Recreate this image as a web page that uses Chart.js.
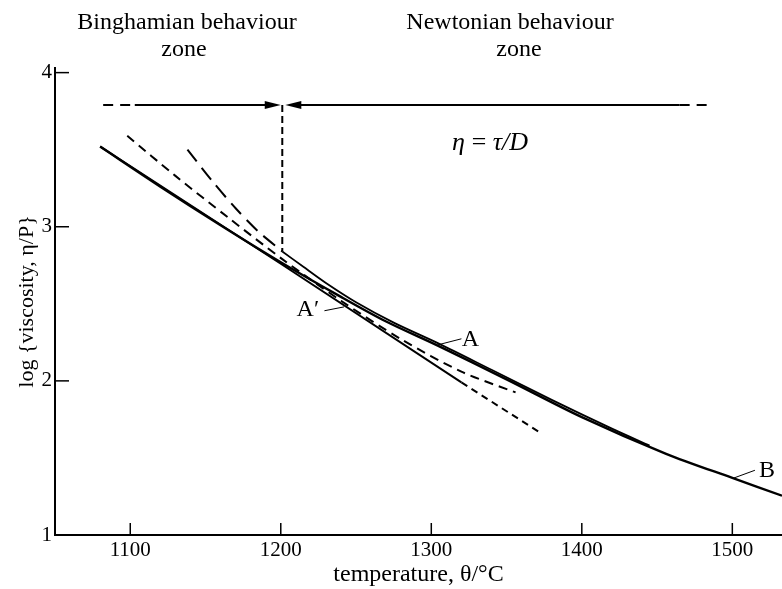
<!DOCTYPE html>
<html>
<head>
<meta charset="utf-8">
<title>log viscosity against temperature</title>
<script src="https://cdn.jsdelivr.net/npm/chart.js@4.4.1/dist/chart.umd.min.js"></script>
<style>
  html, body { margin: 0; padding: 0; background: #fff; }
  #wrap { width: 782px; height: 589px; position: relative; }
</style>
</head>
<body>
<div id="wrap"><canvas id="chart"></canvas></div>
<script>
// axis ticks
var xTicks = [1100, 1200, 1300, 1400, 1500];
var yTicks = [1, 2, 3, 4];

// curve B (the long solid one, down to the right edge)
var tempB = [1080, 1120, 1160, 1200, 1240, 1270, 1305, 1350, 1400, 1456, 1500, 1533];
var logB  = [3.52, 3.26, 3.01, 2.77, 2.545, 2.385, 2.225, 2.01, 1.765, 1.527, 1.37, 1.255];

// curve A (starts at the foot of the vertical dashed line, runs into B)
var tempA = [1201, 1215, 1230, 1250, 1275, 1305, 1340, 1380, 1420, 1445];
var logA  = [2.84, 2.74, 2.635, 2.51, 2.378, 2.242, 2.072, 1.877, 1.69, 1.58];

// straight line A' : solid part then dashed part
var tempAp = [1080, 1200, 1320];
var logAp  = [3.52, 2.76, 1.99];
var tempApDash = [1320, 1373];
var logApDash  = [1.99, 1.66];

// medium dashed curve
var tempMid = [1098, 1130, 1165, 1201, 1240, 1280, 1320, 1356];
var logMid  = [3.59, 3.33, 3.06, 2.79, 2.52, 2.27, 2.06, 1.925];

// long dashed curve
var tempLong = [1138, 1155, 1170, 1185, 1201];
var logLong  = [3.50, 3.29, 3.12, 2.97, 2.84];

// vertical dashed line at the zone boundary
var tempVert = [1201, 1201];
var logVert  = [3.79, 2.84];

// horizontal arrow line at the top
var tempArrowLeftDash  = [1082, 1103];
var tempArrowLeft      = [1103, 1197];
var tempArrowRight     = [1206, 1465];
var tempArrowRightDash = [1465, 1487];
var logArrow = [3.79, 3.79];
var arrowTips = [1200, 1203];

function pts(xs, ys) {
  return xs.map(function (x, i) { return { x: x, y: ys[i] }; });
}

function line(data, width, dash, smooth) {
  return {
    data: data,
    showLine: true,
    borderColor: '#000',
    borderWidth: width,
    borderDash: dash || [],
    pointRadius: 0,
    fill: false,
    tension: smooth ? 0.3 : 0
  };
}

var serif = '"Liberation Serif", "Times New Roman", serif';

// text labels with their leader lines, in data units
var curveLabels = [
  { text: 'A\u2032', x: 1218, y: 2.46, from: [1229, 2.455], to: [1242, 2.48] },
  { text: 'A', x: 1326, y: 2.27, from: [1320, 2.273], to: [1304.5, 2.234] },
  { text: 'B', x: 1523, y: 1.42, from: [1515, 1.42], to: [1500.5, 1.368] }
];

var extrasPlugin = {
  id: 'extras',
  afterDraw: function (chart) {
    var ctx = chart.ctx;
    var xs = chart.scales.x, ys = chart.scales.y;
    var area = chart.chartArea;
    ctx.save();
    ctx.strokeStyle = '#000';
    ctx.fillStyle = '#000';

    // inward tick marks
    ctx.lineWidth = 1.5;
    xTicks.forEach(function (v) {
      var px = xs.getPixelForValue(v);
      ctx.beginPath(); ctx.moveTo(px, area.bottom); ctx.lineTo(px, area.bottom - 12); ctx.stroke();
    });
    yTicks.forEach(function (v) {
      if (v === 1) return;
      var py = ys.getPixelForValue(v);
      ctx.beginPath(); ctx.moveTo(area.left, py); ctx.lineTo(area.left + 14, py); ctx.stroke();
    });

    // arrow heads meeting at the vertical line
    var ay = ys.getPixelForValue(logArrow[0]);
    var t1 = xs.getPixelForValue(arrowTips[0]);
    var t2 = xs.getPixelForValue(arrowTips[1]);
    ctx.beginPath(); ctx.moveTo(t1, ay); ctx.lineTo(t1 - 16, ay - 4); ctx.lineTo(t1 - 16, ay + 4); ctx.closePath(); ctx.fill();
    ctx.beginPath(); ctx.moveTo(t2, ay); ctx.lineTo(t2 + 16, ay - 4); ctx.lineTo(t2 + 16, ay + 4); ctx.closePath(); ctx.fill();

    // curve labels
    ctx.font = '24px ' + serif;
    ctx.textAlign = 'center';
    ctx.textBaseline = 'middle';
    ctx.lineWidth = 1;
    curveLabels.forEach(function (l) {
      ctx.fillText(l.text, xs.getPixelForValue(l.x), ys.getPixelForValue(l.y));
      ctx.beginPath();
      ctx.moveTo(xs.getPixelForValue(l.from[0]), ys.getPixelForValue(l.from[1]));
      ctx.lineTo(xs.getPixelForValue(l.to[0]), ys.getPixelForValue(l.to[1]));
      ctx.stroke();
    });

    // Newtonian relation
    ctx.font = 'italic 26px ' + serif;
    ctx.fillText('\u03b7\u2009=\u2009\u03c4/D', xs.getPixelForValue(1339), ys.getPixelForValue(3.545));

    // zone headings above the plot
    ctx.font = '24px ' + serif;
    ctx.fillText('Binghamian behaviour', 187, 23);
    ctx.fillText('zone', 184, 50);
    ctx.fillText('Newtonian behaviour', 510, 23);
    ctx.fillText('zone', 519, 50);
    ctx.restore();
  }
};

function plain(v) { return String(v); }

new Chart(document.getElementById('chart'), {
  type: 'scatter',
  data: {
    datasets: [
      line(pts(tempB, logB), 2.4, null, true),
      line(pts(tempA, logA), 1.8, null, true),
      line(pts(tempAp, logAp), 2, null, false),
      line(pts(tempApDash, logApDash), 2, [7, 5], false),
      line(pts(tempMid, logMid), 2, [9, 6], true),
      line(pts(tempLong, logLong), 2, [15, 8], true),
      line(pts(tempVert, logVert), 2, [7, 4], false),
      line(pts(tempArrowLeftDash, logArrow), 1.8, [10, 7], false),
      line(pts(tempArrowLeft, logArrow), 1.8, null, false),
      line(pts(tempArrowRight, logArrow), 1.8, null, false),
      line(pts(tempArrowRightDash, logArrow), 1.8, [10, 7], false)
    ]
  },
  options: {
    responsive: true,
    maintainAspectRatio: false,
    animation: false,
    devicePixelRatio: 1,
    layout: { padding: { top: 68, right: 0, bottom: 0, left: 0 } },
    plugins: { legend: { display: false }, tooltip: { enabled: false } },
    scales: {
      x: {
        type: 'linear',
        min: 1050,
        max: 1533,
        afterBuildTicks: function (s) { s.ticks = xTicks.map(function (v) { return { value: v }; }); },
        afterFit: function (s) { s.height = 54; },
        grid: { display: false, drawTicks: false },
        border: { display: true, color: '#000', width: 2 },
        ticks: { color: '#000', padding: 3, maxRotation: 0, callback: plain, font: { family: serif, size: 21 } },
        title: { display: true, text: 'temperature, \u03b8/\u00b0C', color: '#000', padding: { top: 0, bottom: 0 }, font: { family: serif, size: 24 } }
      },
      y: {
        type: 'linear',
        min: 1,
        max: 4.03,
        afterBuildTicks: function (s) { s.ticks = yTicks.map(function (v) { return { value: v }; }); },
        afterFit: function (s) { s.width = 55; },
        grid: { display: false, drawTicks: false },
        border: { display: true, color: '#000', width: 2 },
        ticks: { color: '#000', padding: 3, callback: plain, font: { family: serif, size: 21 } },
        title: { display: true, text: 'log {viscosity, \u03b7/P}', color: '#000', padding: { top: 14, bottom: 0 }, font: { family: serif, size: 22 } }
      }
    }
  },
  plugins: [extrasPlugin]
});
</script>
</body>
</html>
